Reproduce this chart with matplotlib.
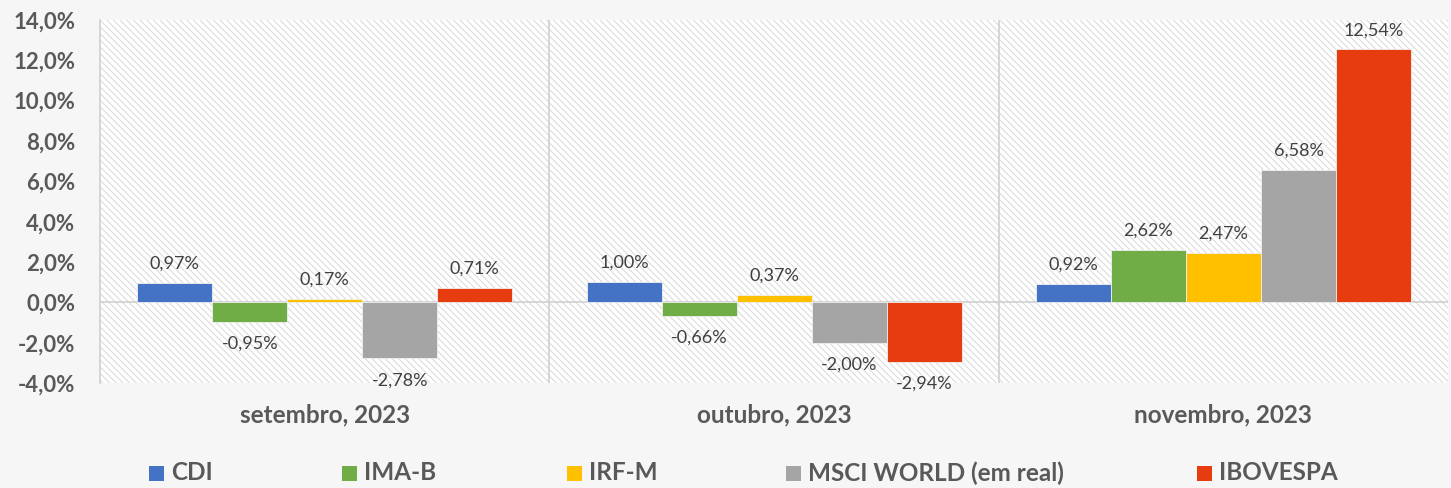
import matplotlib.pyplot as plt
from matplotlib.patches import Rectangle
import numpy as np

# dados de rentabilidade mensal (%)
meses = ['setembro, 2023', 'outubro, 2023', 'novembro, 2023']
series = ['CDI', 'IMA-B', 'IRF-M', 'MSCI WORLD (em real)', 'IBOVESPA']
cdi = [0.97, 1.00, 0.92]
ima_b = [-0.95, -0.66, 2.62]
irf_m = [0.17, 0.37, 2.47]
msci = [-2.78, -2.00, 6.58]
ibov = [0.71, -2.94, 12.54]
cores = ['#4472C4', '#70AD47', '#FFC000', '#A5A5A5', '#E63C10']
yticks = [-4, -2, 0, 2, 4, 6, 8, 10, 12, 14]

valores = [cdi, ima_b, irf_m, msci, ibov]

plt.rcParams['font.family'] = ['Lato', 'DejaVu Sans']
plt.rcParams['hatch.linewidth'] = 0.8
plt.rcParams['hatch.color'] = '#dcdcdc'

fig = plt.figure(figsize=(14.51, 4.88), dpi=100, facecolor='#f6f6f6')
ax = fig.add_axes([0.069, 0.215, 0.929, 0.744])
ax.set_facecolor('white')

# fundo hachurado
ax.add_patch(Rectangle((0, 0), 1, 1, transform=ax.transAxes, facecolor='white',
                       edgecolor='#dcdcdc', hatch='\\\\\\\\\\', linewidth=0, zorder=0))

x = np.arange(len(meses))
largura = 0.167
for i, (nome, vals, cor) in enumerate(zip(series, valores, cores)):
    pos = x + (i - 2) * largura
    ax.bar(pos, vals, width=largura, color=cor, label=nome, zorder=3,
           edgecolor='#f0f0f0', linewidth=0.6)
    for px, v in zip(pos, vals):
        txt = f'{v:.2f}%'.replace('.', ',')
        if v >= 0:
            ax.annotate(txt, (px, v), xytext=(0, 8), textcoords='offset points',
                        ha='center', va='bottom', fontsize=13, color='#404040')
        else:
            ax.annotate(txt, (px, v), xytext=(0, -10), textcoords='offset points',
                        ha='center', va='top', fontsize=13, color='#404040')

ax.set_xlim(-0.5, 2.5)
ax.set_ylim(-4, 14)
ax.set_yticks(yticks)
ax.set_yticklabels([f'{t:.1f}%'.replace('.', ',') for t in yticks],
                   fontsize=16, fontweight='bold', color='#595959')
ax.set_xticks(x)
ax.set_xticklabels(meses, fontsize=17.5, fontweight='bold', color='#595959')
ax.tick_params(axis='both', length=0)
ax.tick_params(axis='x', pad=15)
ax.tick_params(axis='y', pad=18)

ax.axhline(0, color='#d0d0d0', linewidth=1.2, zorder=2)
for sep in [0.5, 1.5]:
    ax.axvline(sep, color='#d0d0d0', linewidth=1.2, zorder=2)
for s in ['top', 'right', 'bottom']:
    ax.spines[s].set_visible(False)
ax.spines['left'].set_color('#d0d0d0')
ax.spines['left'].set_linewidth(1.2)

# legenda
leg_x = [149, 342, 567, 786, 1197]
for lx, nome, cor in zip(leg_x, series, cores):
    fig.patches.append(Rectangle((lx / 1451, 1 - 481 / 488), 15 / 1451, 15 / 488,
                                 transform=fig.transFigure, facecolor=cor, edgecolor='none'))
    fig.text((lx + 22) / 1451, 1 - 473 / 488, nome, fontsize=17.5, fontweight='bold',
             color='#595959', va='center', ha='left')

fig.savefig('out.png', dpi=100, facecolor=fig.get_facecolor())
